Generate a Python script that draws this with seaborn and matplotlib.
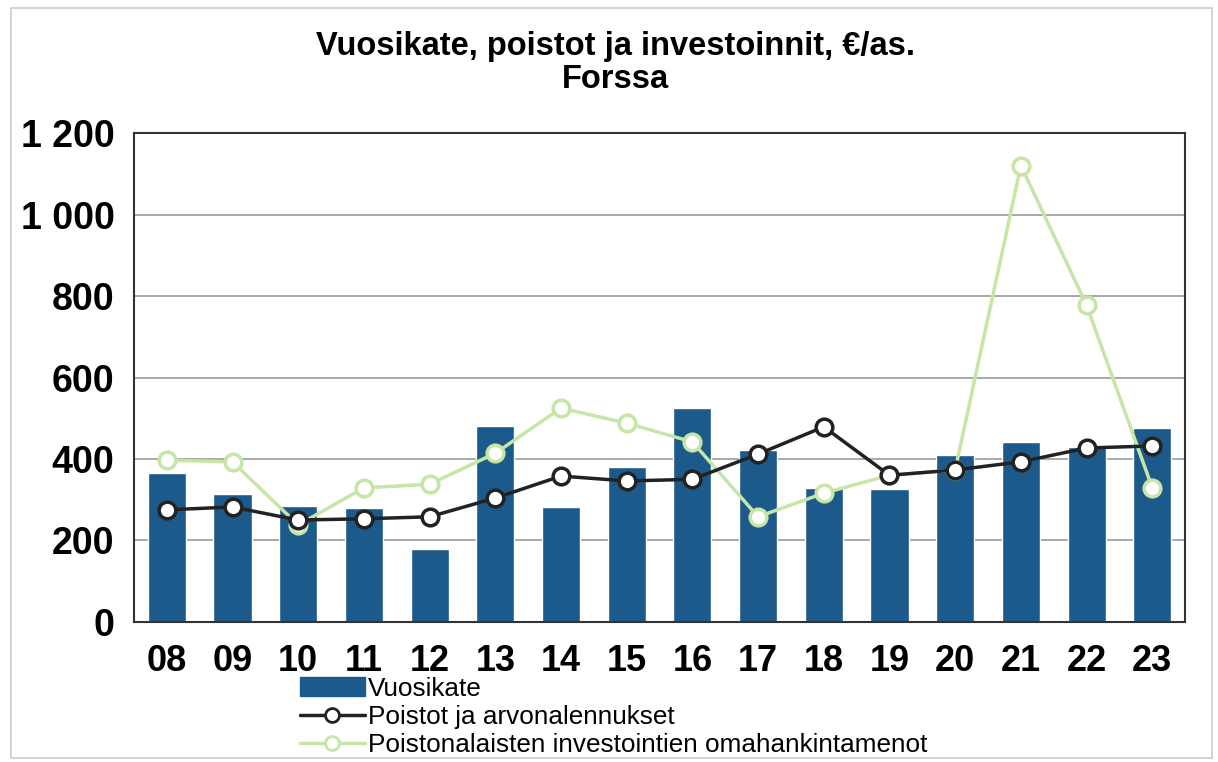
import numpy as np
import pandas as pd
import seaborn as sns
import matplotlib.pyplot as plt
from matplotlib.lines import Line2D
from matplotlib.patches import Patch, Rectangle
from matplotlib.ticker import FuncFormatter


years = ["08", "09", "10", "11", "12", "13", "14", "15", "16", "17", "18", "19", "20", "21", "22", "23"]
vuosikate = [366, 314, 285, 280, 179, 481, 282, 380, 525, 422, 329, 326, 410, 442, 430, 476]
poistot = [275, 282, 250, 253, 258, 304, 358, 346, 350, 412, 479, 360, 373, 393, 427, 432]
investoinnit = [397, 393, 238, 329, 338, 414, 525, 488, 442, 258, 316, 360, 373, 1121, 778, 329]

bar_col = "#1d5a8c"
line_col = "#222222"
green_col = "#c5e6a6"

sns.set_style("white")
plt.rcParams["font.family"] = ["Liberation Sans", "DejaVu Sans"]
plt.rcParams["text.color"] = "black"

fig = plt.figure(figsize=(12.18, 7.62), dpi=100)
ax = fig.add_axes([0.110, 0.184, 0.863, 0.641])

df = pd.DataFrame({"vuosi": years, "Vuosikate": vuosikate,
                   "Poistot": poistot, "Investoinnit": investoinnit})

sns.barplot(data=df, x="vuosi", y="Vuosikate", color=bar_col, width=0.58,
            saturation=1, ax=ax, zorder=2)
sns.pointplot(data=df, x="vuosi", y="Poistot", color=line_col, markers="o",
              markersize=12, markerfacecolor="white", markeredgewidth=2.5,
              linewidth=2.5, ax=ax, zorder=4)
sns.pointplot(data=df, x="vuosi", y="Investoinnit", color=green_col, markers="o",
              markersize=12, markerfacecolor="white", markeredgewidth=2.5,
              linewidth=2.5, ax=ax, zorder=3)

ax.set_ylim(0, 1200)
ax.set_xlim(-0.5, len(years) - 0.5)
ax.set_yticks(np.arange(0, 1201, 200))
ax.yaxis.set_major_formatter(FuncFormatter(lambda v, p: f"{int(v):,}".replace(",", " ")))
ax.grid(axis="y", color="#999999", linewidth=1.2, zorder=0)
ax.set_axisbelow(True)
for s in ax.spines.values():
    s.set_visible(True)
    s.set_color("#333333")
    s.set_linewidth(1.5)
ax.set_xlabel("")
ax.set_ylabel("")
ax.tick_params(axis="y", labelsize=27, length=0, pad=14, labelcolor="black")
ax.tick_params(axis="x", labelsize=26, length=0, pad=16, labelcolor="black")
for lab in ax.get_xticklabels() + ax.get_yticklabels():
    lab.set_fontweight("bold")

fig.text(0.505, 0.917, "Vuosikate, poistot ja investoinnit, €/as.\nForssa",
         ha="center", va="center", fontsize=23.5, fontweight="bold", linespacing=1.1,
         color="black")

handles = [
    Patch(facecolor=bar_col, edgecolor=bar_col),
    Line2D([], [], color=line_col, marker="o", markerfacecolor="white", markersize=10,
           markeredgewidth=2, linewidth=2.5),
    Line2D([], [], color=green_col, marker="o", markerfacecolor="white", markersize=10,
           markeredgewidth=2, linewidth=2.5),
]
labels = ["Vuosikate", "Poistot ja arvonalennukset",
          "Poistonalaisten investointien omahankintamenot"]
leg = fig.legend(handles, labels, loc="upper left", bbox_to_anchor=(0.246, 0.112),
                 frameon=False, fontsize=18.8, handlelength=2.5, handletextpad=0.1,
                 labelspacing=0.16, borderpad=0, borderaxespad=0)
for t in leg.get_texts():
    t.set_color("black")

fig.patches.append(Rectangle((0.009, 0.005), 0.986, 0.985, transform=fig.transFigure,
                             fill=False, edgecolor="#cccccc", linewidth=1.2))

fig.savefig("out.png", dpi=100)
